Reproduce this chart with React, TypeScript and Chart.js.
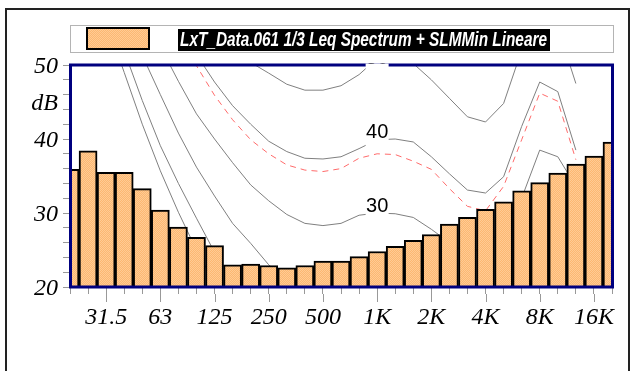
import React, { useEffect, useRef } from 'react';
import { Chart, registerables } from 'chart.js';

Chart.register(...registerables);

// 1/3-octave band centres (20 Hz .. 20 kHz)
const bands = ['20','25','31.5','40','50','63','80','100','125','160','200','250','315','400','500','630','800','1K','1.25K','1.6K','2K','2.5K','3.15K','4K','5K','6.3K','8K','10K','12.5K','16K','20K'];
const tickLabels = ['31.5','63','125','250','500','1K','2K','4K','8K','16K'];
const yTicks = [20,22,24,26,28,30,32,34,36,38,40,42,44,45,46,48,50];

const seriesLabel = 'LxT_Data.061 1/3 Leq Spectrum + SLMMin Lineare';
const leqValues = [35.9,38.4,35.5,35.5,33.3,30.4,28.1,26.7,25.6,23.0,23.1,22.9,22.6,22.9,23.5,23.5,24.1,24.8,25.5,26.3,27.1,28.5,29.4,30.5,31.5,33.0,34.1,35.4,36.6,37.7,39.6];

// equal-loudness style contours (dB per band)
const contourThreshold = [68,62,55.9,49.0,42.0,35.7,30.1,25.0,20.5,null,null,null,null,null,null,null,null,null,null,null,null,null,null,null,null,null,null,null,null,null,null];
const contour10 = [71,65,58.5,51.9,45.2,39.1,34.0,29.3,24.7,21.0,null,null,null,null,null,null,null,null,null,null,null,null,null,null,null,null,null,null,null,null,null];
const contour20 = [71.5,66.5,61.5,56.5,51.3,46.0,40.8,36.2,32.3,28.6,25.9,23.0,20.8,null,null,null,null,null,null,null,null,null,null,null,null,null,null,null,null,null,null];
const contour30 = [78,72,67,62,57,52.5,47.8,43.4,40.0,36.8,33.8,31.65,29.8,28.6,28.3,28.6,29.7,30.0,29.9,29.4,27.8,26.0,24.5,25.5,28.0,32.0,38.5,37.6,33.6,null,null];
const contourRed = [80,75,70,66,62,58,54.5,49.9,45.9,42.6,39.9,38.0,36.5,35.8,35.6,36.0,37.4,38.0,37.9,37.0,35.9,33.3,30.9,30.3,33.6,39.9,46.2,45.1,37.2,null,null];
const contour40 = [85,80,75,70,65,60,55.5,51.4,47.7,44.5,42.0,39.7,38.3,37.4,37.3,37.6,38.7,39.9,40.0,39.6,37.6,35.3,33.1,32.7,34.9,41.7,47.7,46.4,38.5,null,null];
const contour50 = [90,85,80,75,70,66,62,58,55,52.5,50.35,48.9,47.4,46.6,46.6,47.2,48.7,50.9,51.2,50.2,48.0,45.5,43.0,42.3,44.8,52.0,56.0,55.1,47.5,null,null];
const contourLabels = ['50','40','30'];
const contourLabelValues = [50,40,30];
const contourLabelBand = '1K';

function makePattern(): CanvasPattern | string {
  const c = document.createElement('canvas');
  c.width = 2; c.height = 2;
  const g = c.getContext('2d');
  if (!g) return '#FDBE7E';
  g.fillStyle = '#FCB872';
  g.fillRect(0, 0, 2, 2);
  g.fillStyle = '#FFCB94';
  g.fillRect(0, 0, 1, 1);
  g.fillRect(1, 1, 1, 1);
  const p = g.createPattern(c, 'repeat');
  return p || '#FDBE7E';
}

export default function App() {
  const ref = useRef<HTMLCanvasElement | null>(null);

  useEffect(() => {
    const canvas = ref.current;
    if (!canvas) return;
    const pattern = makePattern();

    const decor = {
      id: 'decor',
      beforeDraw(chart: any) {
        const ctx = chart.ctx;
        ctx.save();
        ctx.fillStyle = '#fff';
        ctx.fillRect(0, 0, chart.width, chart.height);
        // outer frame
        ctx.strokeStyle = '#222';
        ctx.lineWidth = 2;
        ctx.strokeRect(6, 9, 623, 400);
        // legend box
        ctx.strokeStyle = '#b4b4b4';
        ctx.lineWidth = 1;
        ctx.strokeRect(70.5, 25.5, 543, 27);
        ctx.fillStyle = pattern as any;
        ctx.fillRect(87, 28, 62, 21);
        ctx.strokeStyle = '#000';
        ctx.lineWidth = 2;
        ctx.strokeRect(87, 28, 62, 21);
        ctx.fillStyle = '#000';
        ctx.fillRect(178, 29, 372, 22);
        ctx.font = 'italic bold 20px "Liberation Sans", Arial, sans-serif';
        ctx.fillStyle = '#fff';
        ctx.textBaseline = 'middle';
        ctx.textAlign = 'left';
        const w = ctx.measureText(seriesLabel).width;
        ctx.translate(180, 40.5);
        ctx.scale(367 / w, 1);
        ctx.fillText(seriesLabel, 0, 0);
        ctx.restore();
      },
      afterDatasetsDraw(chart: any) {
        const ctx = chart.ctx;
        const a = chart.chartArea;
        const xs = chart.scales.x;
        const ys = chart.scales.y;
        ctx.save();
        ctx.strokeStyle = '#00007f';
        ctx.lineWidth = 3;
        ctx.strokeRect(a.left + 0.5, a.top, a.right - a.left, a.bottom - a.top);
        // contour labels
        ctx.beginPath();
        ctx.rect(0, a.top - 1.5, chart.width, chart.height);
        ctx.clip();
        const bi = bands.indexOf(contourLabelBand);
        const cx = xs.getPixelForValue(bi);
        ctx.font = '20px "Liberation Sans", Arial, sans-serif';
        ctx.textAlign = 'center';
        ctx.textBaseline = 'middle';
        contourLabels.forEach((t, i) => {
          const yv = ys.getPixelForValue(contourLabelValues[i]);
          ctx.fillStyle = '#fff';
          ctx.fillRect(cx - 11.5, yv - 16, 23, 23);
          ctx.fillStyle = '#000';
          ctx.fillText(t, cx, yv - 6.5);
        });
        ctx.restore();
        // longer ticks at labelled bands
        ctx.save();
        ctx.strokeStyle = '#999';
        ctx.lineWidth = 1;
        tickLabels.forEach((t) => {
          const px = Math.round(xs.getPixelForValue(bands.indexOf(t))) + 0.5;
          ctx.beginPath();
          ctx.moveTo(px, a.bottom + 7);
          ctx.lineTo(px, a.bottom + 15);
          ctx.stroke();
        });
        ctx.restore();
      },
    };

    const lineDs = (data: (number | null)[], color: string, dash: number[] = []) => ({
      type: 'line' as const,
      data,
      borderColor: color,
      borderWidth: 1,
      borderDash: dash,
      pointRadius: 0,
      tension: 0,
      fill: false,
      spanGaps: false,
      clip: 0,
      order: 1,
    });

    const chart = new Chart(canvas, {
      type: 'bar',
      data: {
        labels: bands,
        datasets: [
          {
            type: 'bar',
            label: seriesLabel,
            data: leqValues,
            backgroundColor: pattern as any,
            borderColor: '#000',
            borderWidth: 2,
            borderSkipped: false,
            barPercentage: 1,
            categoryPercentage: 1,
            clip: 0,
            order: 0,
          } as any,
          lineDs(contourThreshold, '#808080'),
          lineDs(contour10, '#808080'),
          lineDs(contour20, '#808080'),
          lineDs(contour30, '#808080'),
          lineDs(contourRed, '#ff6b6b', [6, 5]),
          lineDs(contour40, '#808080'),
          lineDs(contour50, '#808080'),
        ],
      },
      options: {
        animation: false,
        responsive: false,
        devicePixelRatio: 1,
        layout: { padding: { left: 0, top: 65, right: 23, bottom: 0 } },
        plugins: { legend: { display: false }, tooltip: { enabled: false } },
        scales: {
          x: {
            type: 'category',
            offset: false,
            grid: { offset: false, drawOnChartArea: false, drawTicks: true, tickLength: 7, color: '#999' },
            border: { display: false },
            ticks: {
              autoSkip: false,
              maxRotation: 0,
              minRotation: 0,
              padding: 9,
              color: '#000',
              font: { family: '"Liberation Serif", "Times New Roman", serif', style: 'italic', size: 24 },
              callback: (_v: any, i: number) => (tickLabels.includes(bands[i]) ? bands[i] : ''),
            },
            afterFit: (s: any) => { s.height = 84; },
          },
          y: {
            type: 'linear',
            min: 20,
            max: 50,
            afterBuildTicks: (s: any) => { s.ticks = yTicks.map((v) => ({ value: v })); },
            grid: {
              drawOnChartArea: false,
              drawTicks: true,
              tickLength: 7,
              color: (c: any) => (c.tick && c.tick.value === 45 ? 'rgba(0,0,0,0)' : '#999'),
            },
            border: { display: false },
            ticks: {
              autoSkip: false,
              padding: 5,
              labelOffset: 2,
              color: '#000',
              font: { family: '"Liberation Serif", "Times New Roman", serif', style: 'italic', size: 24 },
              callback: (v: any) => (v % 10 === 0 ? String(v) : v === 45 ? 'dB' : ''),
            },
            afterFit: (s: any) => { s.width = 70; },
          },
        },
      } as any,
      plugins: [decor],
    });

    return () => chart.destroy();
  }, []);

  return (
    <div style={{ position: 'absolute', left: 0, top: 0, width: 635, height: 371, background: '#fff' }}>
      <canvas ref={ref} width={635} height={371} style={{ display: 'block', width: 635, height: 371 }} />
    </div>
  );
}
